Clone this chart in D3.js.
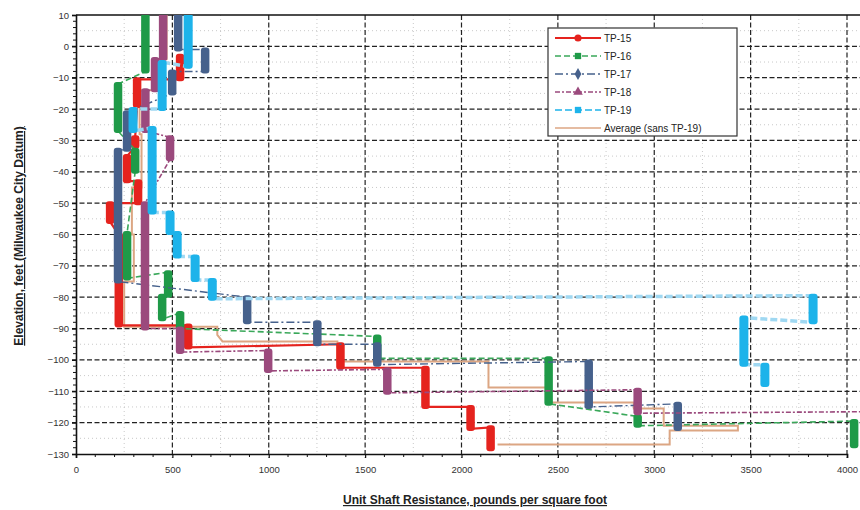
<!DOCTYPE html>
<html><head><meta charset="utf-8">
<script src="https://cdn.jsdelivr.net/npm/d3@7"></script>
<style>body{margin:0;background:#fff}svg{display:block;font-family:"Liberation Sans",Arial,sans-serif}</style>
</head><body>
<svg id="c" width="860" height="510"></svg>
<script>
// ---- data ----
const xTicks = [0, 500, 1000, 1500, 2000, 2500, 3000, 3500, 4000];
const yTicks = [10, 0, -10, -20, -30, -40, -50, -60, -70, -80, -90, -100, -110, -120, -130];
const seriesNames = ["TP-15", "TP-16", "TP-17", "TP-18", "TP-19", "Average (sans TP-19)"];
// segments: [unit shaft resistance (psf), top elevation (ft), bottom elevation (ft)]
const tp15 = [[540,-3,-10.5],[317,-10.5,-19],[307,-29,-32],[265,-35,-43],[322,-43,-50],[177,-50,-56],
  [222,-60,-89],[582,-89,-96],[1372,-95,-102.5],[1813,-102.5,-115],[2047,-115,-122],[2151,-121.5,-128.5]];
const tp16 = [[360,10,-8],[218,-12,-27],[307,-33,-40],[265,-59.5,-74],[478,-72,-79.5],[447,-79.5,-87],
  [540,-85,-90],[1563,-92.5,-99.5],[2452,-99.5,-114],[2914,-118,-121],[4037,-119.5,-127.5]];
const tp17 = [[530,10,-1],[670,-1,-8],[499,-8,-15],[265,-21,-33],[218,-33,-75],[888,-80,-88],
  [1252,-88,-95],[1563,-95,-101.5],[2660,-100.5,-115],[3122,-114,-122]];
const tp18 = [[452,10,-4],[410,-4,-14],[360,-14,-27],[488,-29,-36],[358,-50,-90],[540,-90,-97.5],
  [997,-97,-103.5],[1615,-103,-110.5],[2914,-109.5,-117],[4120,-116.5,-118.5]];
const tp19 = [[582,10,-6.5],[447,-5,-20],[296,-20,-27],[395,-26,-53],[488,-53,-59.5],[525,-59.5,-67],
  [618,-67,-74.5],[707,-74.5,-80.5],[3824,-79.5,-88],[3465,-86.5,-101.5],[3574,-101.5,-108]];
const avgX = [470,470,430,430,330,330,340,340,290,290,300,300,250,250,733,733,760,1356,1356,2140,2140,2447,2447,2894,2894,3049,3049,3434,3434,3080,3080,2187];
const avgElev = [10,-4,-4,-14,-14,-28,-28,-45,-45,-60,-60,-75,-75,-89.4,-89.4,-92,-94.1,-94.1,-100.5,-100.5,-108.8,-108.8,-113.6,-113.6,-115.5,-115.5,-121,-121,-122.5,-122.5,-127,-127];

// ---- layout / style ----
const svg = d3.select("#c");
const x = d3.scaleLinear().domain([0, 4000]).range([76, 847]);
const y = d3.scaleLinear().domain([10, -130]).range([15, 454]);
const styles = [
  {c:"#e5231e", lc:"#e5231e", w:2.2, dash:null, bw:8.5, m:"circle"},
  {c:"#1f9a48", lc:"#3aa85a", w:1.6, dash:"6,3", bw:8.5, m:"square"},
  {c:"#46618c", lc:"#46618c", w:1.4, dash:"8,3,2,3", bw:8.5, m:"diamond"},
  {c:"#9b4a7d", lc:"#9b4a7d", w:1.6, dash:"5,2,2,2", bw:8.5, m:"triangle"},
  {c:"#1db3ea", lc:"#9fd8f2", w:3.5, dash:"7,3", bw:9, m:"square"},
  {c:"#dca683", lc:"#dca683", w:2, dash:null, bw:0, m:null}
];

svg.append("defs").append("clipPath").attr("id","clip")
  .append("rect").attr("x",76).attr("y",15).attr("width",784).attr("height",439);

// minor grid
const g = svg.append("g");
g.selectAll(".mgy").data(d3.range(5, -130, -10)).join("line")
  .attr("x1",76).attr("x2",860).attr("y1",d=>y(d)).attr("y2",d=>y(d))
  .attr("stroke","#bbb").attr("stroke-width",0.8).attr("stroke-dasharray","1,3");
g.selectAll(".mgx").data(d3.range(250, 4000, 500)).join("line")
  .attr("y1",15).attr("y2",454).attr("x1",d=>x(d)).attr("x2",d=>x(d))
  .attr("stroke","#bbb").attr("stroke-width",0.8).attr("stroke-dasharray","1,3");
// major grid
g.selectAll(".gy").data(yTicks.slice(1,-1)).join("line")
  .attr("x1",72).attr("x2",860).attr("y1",d=>y(d)).attr("y2",d=>y(d))
  .attr("stroke","#222").attr("stroke-width",1.2).attr("stroke-dasharray","5,2.5");
g.selectAll(".gx").data(xTicks.slice(1)).join("line")
  .attr("y1",15).attr("y2",458).attr("x1",d=>x(d)).attr("x2",d=>x(d))
  .attr("stroke","#222").attr("stroke-width",1.2).attr("stroke-dasharray","5,2.5");

// axes
const yAxis = d3.axisLeft(y).tickValues(yTicks).tickSize(4).tickPadding(3).tickFormat(d3.format("d"));
const xAxis = d3.axisBottom(x).tickValues(xTicks).tickSize(4).tickPadding(8).tickFormat(d3.format("d"));
const ya = svg.append("g").attr("transform","translate(76,0)").call(yAxis);
const xa = svg.append("g").attr("transform","translate(0,454)").call(xAxis);
[ya, xa].forEach(a => {
  a.select(".domain").attr("stroke","#111").attr("stroke-width",1.6);
  a.selectAll(".tick line").attr("stroke","#111").attr("stroke-width",1.2);
  a.selectAll("text").attr("font-size","9.5px").attr("fill","#333").attr("font-family","Liberation Sans, Arial, sans-serif");
});
// minor ticks
svg.append("g").selectAll("line").data(d3.range(8, -130, -2).filter(d=>d%10!==0)).join("line")
  .attr("x1",73).attr("x2",76).attr("y1",d=>y(d)).attr("y2",d=>y(d)).attr("stroke","#111");
svg.append("g").selectAll("line").data(d3.range(100, 4100, 100).filter(d=>d%500!==0)).join("line")
  .attr("y1",454).attr("y2",457).attr("x1",d=>x(d)).attr("x2",d=>x(d)).attr("stroke","#111");
// top border
svg.append("line").attr("x1",76).attr("x2",860).attr("y1",y(10)).attr("y2",y(10)).attr("stroke","#111").attr("stroke-width",1.6);

// series
const plot = svg.append("g").attr("clip-path","url(#clip)");
const line = d3.line().x(d=>x(d[0])).y(d=>y(d[1]));
const avgPts = avgX.map((v,i)=>[v, avgElev[i]]);
plot.append("path").attr("d", line(avgPts)).attr("fill","none")
  .attr("stroke", styles[5].lc).attr("stroke-width", styles[5].w);

[tp15, tp16, tp17, tp18, tp19].forEach((segs, i) => {
  const s = styles[i];
  const pts = segs.flatMap(d => [[d[0], d[1]], [d[0], d[2]]]);
  plot.append("path").attr("d", line(pts)).attr("fill","none")
    .attr("stroke", s.lc).attr("stroke-width", s.w).attr("stroke-dasharray", s.dash);
  plot.append("g").selectAll("rect").data(segs).join("rect")
    .attr("x", d => x(d[0]) - s.bw/2).attr("width", s.bw)
    .attr("y", d => y(d[1]) - 2).attr("height", d => y(d[2]) - y(d[1]) + 4)
    .attr("rx", 3).attr("fill", s.c);
});

// legend
const lg = svg.append("g");
lg.append("rect").attr("x",548).attr("y",28).attr("width",189).attr("height",108)
  .attr("fill","#fff").attr("stroke","#333").attr("stroke-width",1.2);
const symbolFor = {circle:d3.symbolCircle, square:d3.symbolSquare, diamond:d3.symbolDiamond, triangle:d3.symbolTriangle};
seriesNames.forEach((name, i) => {
  const s = styles[i];
  const yy = 38 + i * 18;
  lg.append("line").attr("x1",555).attr("x2",601).attr("y1",yy).attr("y2",yy)
    .attr("stroke", i===4 ? "#1db3ea" : s.lc).attr("stroke-width", i===0 ? 2.2 : 1.6).attr("stroke-dasharray", s.dash);
  if (s.m) lg.append("path").attr("d", d3.symbol().type(symbolFor[s.m]).size(40)())
    .attr("transform", `translate(578,${yy})`).attr("fill", s.c);
  lg.append("text").attr("x",604).attr("y",yy+3.5).attr("font-size","10px").attr("fill","#222").text(name);
});

// titles
svg.append("text").attr("transform","translate(23,236) rotate(-90)").attr("text-anchor","middle")
  .attr("font-size","12px").attr("font-weight","bold").attr("text-decoration","underline").attr("fill","#222")
  .text("Elevation, feet (Milwaukee City Datum)");
svg.append("text").attr("x",475).attr("y",504).attr("text-anchor","middle")
  .attr("font-size","12px").attr("font-weight","bold").attr("text-decoration","underline").attr("fill","#222")
  .text("Unit Shaft Resistance, pounds per square foot");
</script>
</body></html>
